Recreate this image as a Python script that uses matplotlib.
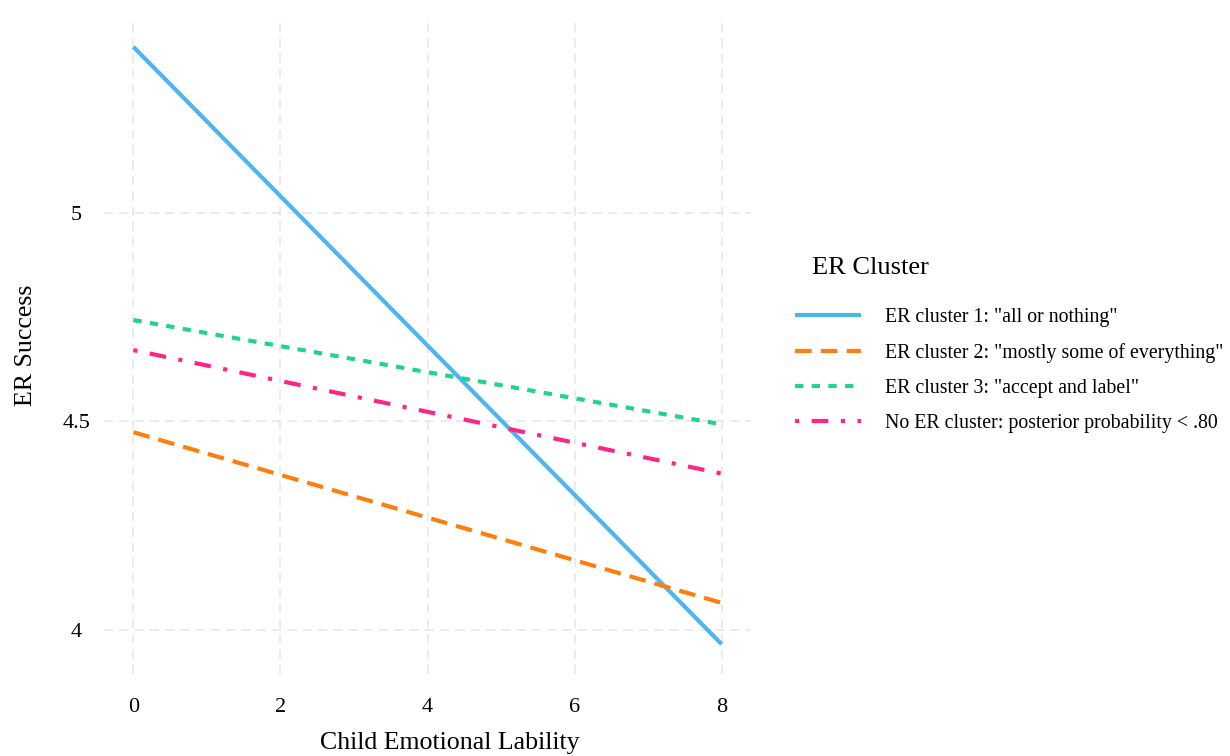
import matplotlib.pyplot as plt
import numpy as np

plt.rcParams['font.family'] = ['Liberation Serif', 'DejaVu Serif']

# Predicted ER success at the ends of the lability range, per cluster
lability = [0, 8]
cluster1 = [5.398, 3.966]
cluster2 = [4.474, 4.065]
cluster3 = [4.743, 4.493]
no_cluster = [4.671, 4.375]

labels = ['ER cluster 1: "all or nothing"',
          'ER cluster 2: "mostly some of everything"',
          'ER cluster 3: "accept and label"',
          'No ER cluster: posterior probability < .80']

xticks = [0, 2, 4, 6, 8]
yticks = [4, 4.5, 5]
ytick_labels = ['4', '4.5', '5']

fig = plt.figure(figsize=(12.3, 7.56), dpi=100)
ax = fig.add_axes([104 / 1230, 1 - 674 / 756, 647 / 1230, 657 / 756])

lw = 3.0
ax.plot(lability, cluster1, color='#4DB6F0', lw=lw, solid_capstyle='butt', label=labels[0])
ax.plot(lability, cluster2, color='#FF7F0E', lw=lw, ls=(0, (4.0, 2.2)),
        dash_capstyle='butt', label=labels[1])
ax.plot(lability, cluster3, color='#22D38C', lw=lw, ls=(0, (2.0, 2.0)),
        dash_capstyle='butt', label=labels[2])
ax.plot(lability, no_cluster, color='#FF2586', lw=lw, ls=(0, (1.0, 3.0, 4.0, 3.0)),
        dash_capstyle='butt', label=labels[3])

# ggplot-style 5% expansion
xr = lability[1] - lability[0]
ax.set_xlim(lability[0] - 0.05 * xr, lability[1] + 0.05 * xr)
allv = cluster1 + cluster2 + cluster3 + no_cluster
yr = max(allv) - min(allv)
ax.set_ylim(min(allv) - 0.05 * yr, max(allv) + 0.05 * yr)

ax.set_xticks(xticks)
ax.set_yticks(yticks)
ax.set_yticklabels(ytick_labels)
ax.tick_params(axis='both', length=0, labelsize=16, colors='black')
ax.tick_params(axis='x', pad=17)
ax.tick_params(axis='y', pad=20)
for lbl in ax.get_yticklabels():
    lbl.set_ha('center')

ax.grid(True, color='#E6E6E6', lw=1.1, ls=(0, (6, 4)))
ax.set_axisbelow(True)
for s in ax.spines.values():
    s.set_visible(False)

ax.set_xlabel('Child Emotional Lability', fontsize=18.6)
ax.set_ylabel('ER Success', fontsize=18.6)
ax.xaxis.set_label_coords(0.535, -0.088)
ax.yaxis.set_label_coords(-0.103, 0.5)

leg = ax.legend(loc='upper left', bbox_to_anchor=(795 / 1230, 1 - 308 / 756),
                bbox_transform=fig.transFigure, frameon=False, fontsize=14.3,
                handlelength=3.3, handletextpad=1.25, labelspacing=0.80,
                borderpad=0, borderaxespad=0)
fig.text(812 / 1230, 1 - 268 / 756, 'ER Cluster', fontsize=19, ha='left', va='center')

fig.savefig('out.png', dpi=100)
